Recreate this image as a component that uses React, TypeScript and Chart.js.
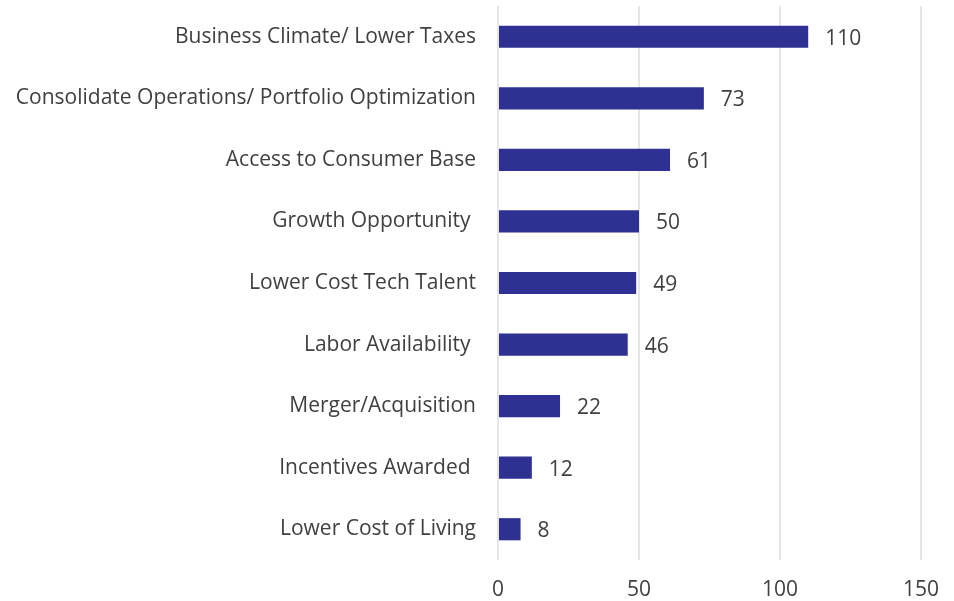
import React, { useEffect, useRef } from "react";
import { Chart, registerables } from "chart.js";

Chart.register(...registerables);

const categories = [
  "Business Climate/ Lower Taxes",
  "Consolidate Operations/ Portfolio Optimization",
  "Access to Consumer Base",
  "Growth Opportunity ",
  "Lower Cost Tech Talent",
  "Labor Availability ",
  "Merger/Acquisition",
  "Incentives Awarded ",
  "Lower Cost of Living",
];
const values = [110, 73, 61, 50, 49, 46, 22, 12, 8];
const xTicks = [0, 50, 100, 150];

const FONT = "'Open Sans', Lato, sans-serif";
const TEXT = "#404040";
const SIZE = 21;

const valueLabels = {
  id: "valueLabels",
  afterDatasetsDraw(chart: any) {
    const ctx = chart.ctx;
    const meta = chart.getDatasetMeta(0);
    ctx.save();
    ctx.font = `${SIZE}px ${FONT}`;
    ctx.fillStyle = TEXT;
    ctx.textAlign = "left";
    ctx.textBaseline = "middle";
    meta.data.forEach((bar: any, i: number) => {
      ctx.fillText(String(values[i]), bar.x + 17, bar.y + 2);
    });
    ctx.restore();
  },
};

export default function App() {
  const ref = useRef<HTMLCanvasElement>(null);
  useEffect(() => {
    document.body.style.margin = "0";
    const chart = new Chart(ref.current!, {
      type: "bar",
      data: {
        labels: categories,
        datasets: [
          {
            data: values,
            backgroundColor: "#2E3192",
            borderWidth: 0,
            barPercentage: 0.72,
            categoryPercentage: 0.5,
          },
        ],
      },
      options: {
        indexAxis: "y",
        animation: false,
        responsive: false,
        maintainAspectRatio: false,
        layout: { padding: { top: 6, right: 33, left: 0, bottom: 0 } },
        plugins: { legend: { display: false }, tooltip: { enabled: false } },
        scales: {
          x: {
            min: 0,
            max: 150,
            afterBuildTicks(scale: any) {
              scale.ticks = xTicks.map((v) => ({ value: v }));
            },
            afterFit(scale: any) {
              scale.height = 41;
              scale.paddingLeft = 0;
              scale.paddingRight = 0;
            },
            grid: { color: "#E6E6E6", lineWidth: 2, drawTicks: false },
            border: { display: false },
            ticks: {
              padding: 17,
              color: TEXT,
              font: { family: FONT, size: SIZE },
            },
          },
          y: {
            afterFit(scale: any) {
              scale.width = 498;
              scale.paddingTop = 0;
              scale.paddingBottom = 0;
            },
            grid: { display: false, drawTicks: false },
            border: { display: false },
            ticks: {
              padding: 22,
              color: TEXT,
              font: { family: FONT, size: SIZE },
            },
          },
        },
      },
      plugins: [valueLabels],
    });
    return () => chart.destroy();
  }, []);
  return (
    <div style={{ position: "fixed", left: 0, top: 0, width: 954, height: 601 }}>
      <canvas ref={ref} width={954} height={601} />
    </div>
  );
}
